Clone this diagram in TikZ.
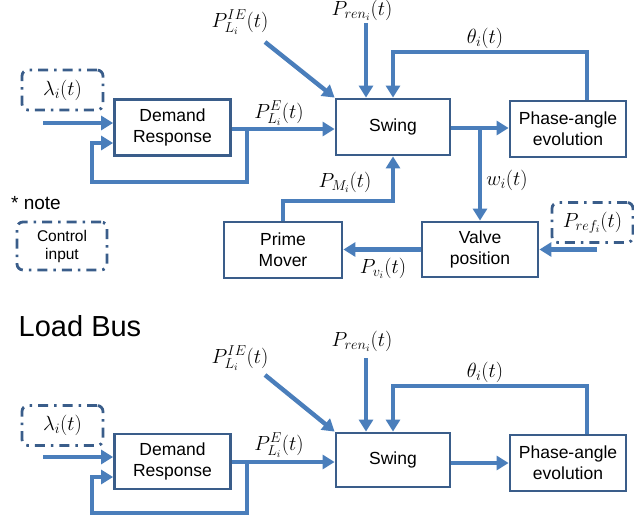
\documentclass[tikz,border=0pt]{standalone}
\usepackage{fix-cm}
\usepackage[no-math]{fontspec}
\setmainfont{Liberation Sans}
\usetikzlibrary{arrows.meta}
\definecolor{sigblue}{HTML}{4A7EBB}
\definecolor{boxblue}{HTML}{3A5D8A}
\begin{document}
\begin{tikzpicture}[x=1pt,y=-1pt,
  blk/.style={draw=boxblue,line width=2.8pt,align=center,inner sep=0pt,
    minimum width=116pt,minimum height=56pt,font=\fontsize{17.5}{21}\selectfont},
  ctl/.style={draw=boxblue,line width=2.8pt,rounded corners=6pt,
    dash pattern=on 10pt off 6pt on 2.5pt off 6pt,inner sep=0pt,align=center,
    minimum width=81pt,minimum height=40pt},
  sig/.style={draw=sigblue,line width=4.4pt,-{Triangle[length=12pt,width=14pt]}},
  lbl/.style={inner sep=0pt,font=\fontsize{20.5}{23}\selectfont}]
  \useasboundingbox (0,0) rectangle (634,522);

  % upper bus
  \node[ctl,lbl] (lam1) at (62.5,90) {$\lambda_i(t)$};
  \node[blk] (dr1) at (172.5,127.5) {Demand\\Response};
  \node[blk,minimum width=114pt] (sw1) at (393,127) {Swing};
  \node[blk] (pa1) at (568,129) {Phase-angle\\evolution};
  \node[blk,minimum height=55pt] (vp) at (480,249.5) {Valve\\position};
  \node[blk,minimum width=118pt] (pm) at (283,250) {Prime\\Mover};
  \node[ctl,lbl] (pref) at (592.5,222.5) {$P_{ref_i}(t)$};

  \node[lbl] (lie1) at (240,22) {$P_{L_i}^{IE}(t)$};
  \node[lbl] (le1) at (279,113) {$P_{L_i}^{E}(t)$};
  \node[lbl] (pren1) at (362,10) {$P_{ren_i}(t)$};
  \node[lbl] (th1) at (485,38) {$\theta_i(t)$};
  \node[lbl] (w1) at (507,180) {$w_i(t)$};
  \node[lbl] (pmi) at (345,182) {$P_{M_i}(t)$};
  \node[lbl] (pvi) at (383,268) {$P_{v_i}(t)$};

  \coordinate (in1) at (43,123);
  \coordinate (fb1) at (247,182);
  \coordinate (fl1) at (92,143);
  \coordinate (ie1) at (265,42);
  \coordinate (rn1) at (366,23);
  \coordinate (rf1) at (597,249.5);

  \draw[sig] (in1) -- (in1 -| dr1.west);
  \draw[sig] (dr1.east |- 0,129) -- (sw1.west |- 0,129);
  \draw[sig] (fb1 |- 0,129) -- (fb1) -| (fl1) -- (fl1 -| dr1.west);
  \draw[sig] (ie1) -- (sw1.north west);
  \draw[sig] (rn1) -- (rn1 |- sw1.north);
  \draw[sig] ([xshift=19pt]pa1.north) |- (sw1.north |- 0,52) -- (sw1.north);
  \draw[sig] (sw1.east |- 0,128) -- (pa1.west |- 0,128);
  \draw[sig] (vp.north |- 0,128) -- (vp.north);
  \draw[sig] (rf1) -- (rf1 -| vp.east);
  \draw[sig] (vp.west) -- (vp.west -| pm.east);
  \draw[sig] (pm.north) |- (sw1.south |- 0,201) -- (sw1.south);

  % legend
  \node[inner sep=0pt,font=\fontsize{19}{22}\selectfont] (note) at (36,203) {* note};
  \node[ctl,minimum width=90pt,minimum height=48pt,
    font=\fontsize{15.5}{18}\selectfont] (ctlin) at (62,246) {Control\\input};
  \node[inner sep=0pt,font=\fontsize{29}{32}\selectfont] (bus) at (80,326) {Load Bus};

  % load bus
  \node[ctl,lbl] (lam2) at (62.5,425.5) {$\lambda_i(t)$};
  \node[blk,minimum height=55pt] (dr2) at (172.5,461.5) {Demand\\Response};
  \node[blk,minimum width=114pt,minimum height=54pt] (sw2) at (393,460) {Swing};
  \node[blk] (pa2) at (568,463) {Phase-angle\\evolution};

  \node[lbl] (lie2) at (240,358) {$P_{L_i}^{IE}(t)$};
  \node[lbl] (le2) at (279,445) {$P_{L_i}^{E}(t)$};
  \node[lbl] (pren2) at (362,341) {$P_{ren_i}(t)$};
  \node[lbl] (th2) at (485,372) {$\theta_i(t)$};

  \coordinate (in2) at (43,457);
  \coordinate (fb2) at (247,513);
  \coordinate (fl2) at (92,477);
  \coordinate (ie2) at (265,375);
  \coordinate (rn2) at (366,358);

  \draw[sig] (in2) -- (in2 -| dr2.west);
  \draw[sig] (dr2.east |- 0,462) -- (sw2.west |- 0,462);
  \draw[sig] (fb2 |- 0,462) -- (fb2) -| (fl2) -- (fl2 -| dr2.west);
  \draw[sig] (ie2) -- (sw2.north west);
  \draw[sig] (rn2) -- (rn2 |- sw2.north);
  \draw[sig] ([xshift=19pt]pa2.north) |- (sw2.north |- 0,386) -- (sw2.north);
  \draw[sig] (sw2.east |- 0,463) -- (pa2.west |- 0,463);
\end{tikzpicture}
\end{document}
